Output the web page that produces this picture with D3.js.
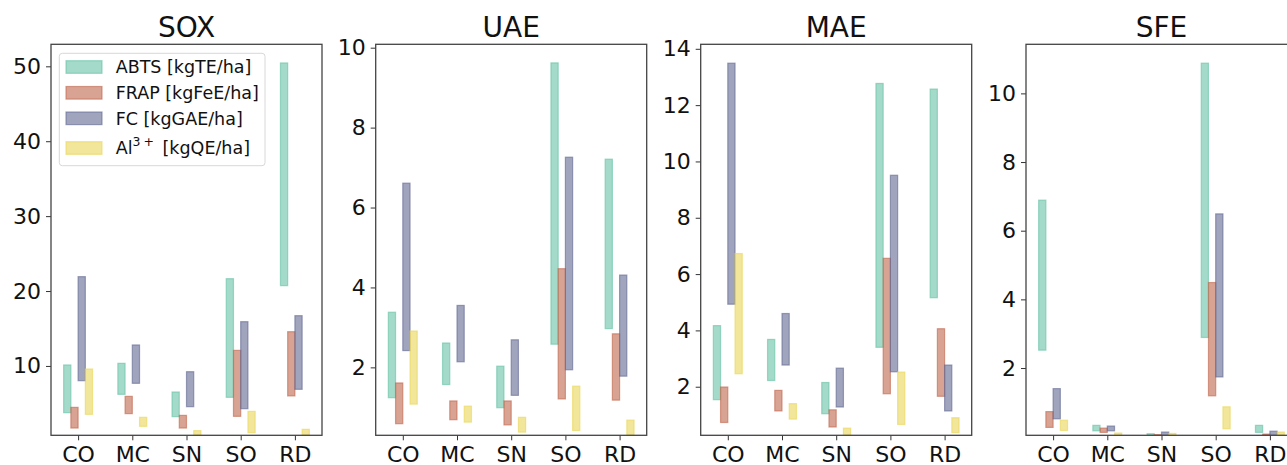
<!DOCTYPE html>
<html>
<head>
<meta charset="utf-8">
<script src="https://cdn.jsdelivr.net/npm/d3@7"></script>
<style>
  html, body { margin: 0; padding: 0; background: #fff; }
  svg { display: block; font-family: "DejaVu Sans", sans-serif; }
</style>
</head>
<body>
<svg id="chart" width="1287" height="465"></svg>
<script>
// ---------- data ----------
const categories = ["CO", "MC", "SN", "SO", "RD"];
const seriesNames = ["ABTS", "FRAP", "FC", "Al"];
const seriesColors = ["#66c2a5", "#c0664b", "#616791", "#e9d557"];
const panelTitles = ["SOX", "UAE", "MAE", "SFE"];

// bottoms / tops, one row per series (ABTS, FRAP, FC, Al3+), one column per category
const soxBottom = [[3.76, 6.21, 3.23, 5.81, 20.72], [1.71, 3.63, 1.71, 3.27, 6.0], [8.03, 7.68, 4.56, 4.29, 6.88], [3.54, 1.94, 0.74, 1.09, 0.74]];
const soxTop    = [[10.13, 10.35, 6.52, 21.65, 50.45], [4.47, 5.94, 3.40, 12.08, 14.57], [21.92, 12.8, 9.23, 15.91, 16.71], [9.59, 3.14, 1.36, 3.94, 1.54]];

const uaeBottom = [[1.24, 1.57, 0.99, 2.58, 2.97], [0.59, 0.69, 0.56, 1.21, 1.18], [2.42, 2.14, 1.30, 1.94, 1.78], [1.08, 0.63, 0.38, 0.42, 0.30]];
const uaeTop    = [[3.38, 2.61, 2.03, 9.62, 7.21], [1.61, 1.16, 1.16, 4.47, 2.84], [6.61, 3.55, 2.69, 7.26, 4.31], [2.91, 1.03, 0.75, 1.53, 0.68]];

const maeBottom = [[1.54, 2.22, 1.04, 3.40, 5.16], [0.73, 1.14, 0.57, 1.75, 1.66], [4.93, 2.77, 1.28, 2.53, 1.14], [2.46, 0.85, 0.275, 0.66, 0.37]];
const maeTop    = [[4.17, 3.68, 2.15, 12.77, 12.57], [1.99, 1.87, 1.18, 6.56, 4.06], [13.49, 4.60, 2.66, 9.51, 2.77], [6.73, 1.40, 0.53, 2.52, 0.90]];

const sfeBottom = [[2.52, 0.17, 0.04, 2.89, 0.125], [0.27, 0.125, 0.04, 1.19, 0.04], [0.52, 0.17, 0.04, 1.74, 0.04], [0.18, 0.04, 0.04, 0.23, 0.04]];
const sfeTop    = [[6.89, 0.33, 0.085, 10.88, 0.33], [0.73, 0.25, 0.06, 4.49, 0.075], [1.40, 0.31, 0.135, 6.49, 0.16], [0.48, 0.105, 0.095, 0.87, 0.135]];

const yLimits = [[0.74, 52.94], [0.30, 10.085], [0.275, 14.16], [0.04, 11.43]];
const yTicks = [[10, 20, 30, 40, 50], [2, 4, 6, 8, 10], [2, 4, 6, 8, 10, 12, 14], [2, 4, 6, 8, 10]];

const panelBottoms = [soxBottom, uaeBottom, maeBottom, sfeBottom];
const panelTops = [soxTop, uaeTop, maeTop, sfeTop];

// ---------- layout ----------
const svg = d3.select("#chart");
const panelLefts = [51, 375.7, 700.7, 1026];
const pw = 271, plotTop = 44.3, plotBottom = 435.3;
const offsets = [-0.2, -0.0667, 0.0667, 0.2];
const barW = 0.1333;
const FONT = "DejaVu Sans, sans-serif";

panelTitles.forEach((title, p) => {
  const left = panelLefts[p];
  const x = d3.scaleLinear().domain([-0.5, 4.5]).range([left, left + pw]);
  const y = d3.scaleLinear().domain(yLimits[p]).range([plotBottom, plotTop]);
  const g = svg.append("g");

  const clipId = "clip" + p;
  svg.append("clipPath").attr("id", clipId).append("rect")
    .attr("x", left).attr("y", plotTop).attr("width", pw).attr("height", plotBottom - plotTop);

  const bars = g.append("g").attr("clip-path", `url(#${clipId})`);
  seriesNames.forEach((s, j) => {
    bars.selectAll(null).data(categories).enter().append("rect")
      .attr("x", (c, i) => x(i + offsets[j] - barW / 2))
      .attr("width", x(barW) - x(0))
      .attr("y", (c, i) => y(panelTops[p][j][i]))
      .attr("height", (c, i) => Math.max(0.01, y(panelBottoms[p][j][i]) - y(panelTops[p][j][i])))
      .attr("fill", seriesColors[j]).attr("fill-opacity", 0.6)
      .attr("stroke", seriesColors[j]).attr("stroke-opacity", 0.6).attr("stroke-width", 1.2);
  });

  // axes
  const yAxis = d3.axisLeft(y).tickValues(yTicks[p]).tickSize(5).tickPadding(5).tickFormat(d3.format("d"));
  const ya = g.append("g").attr("transform", `translate(${left},0)`).call(yAxis);
  const xAxis = d3.axisBottom(x).tickValues(d3.range(categories.length)).tickSize(5).tickPadding(6)
    .tickFormat(i => categories[i]);
  const xa = g.append("g").attr("transform", `translate(0,${plotBottom})`).call(xAxis);
  [ya, xa].forEach(a => {
    a.select(".domain").remove();
    a.selectAll(".tick line").attr("stroke", "#333").attr("stroke-width", 1);
    a.selectAll(".tick text").attr("fill", "#111").style("font-size", "22px").style("font-family", FONT);
  });

  // frame
  g.append("rect").attr("x", left).attr("y", plotTop).attr("width", pw).attr("height", plotBottom - plotTop)
    .attr("fill", "none").attr("stroke", "#444").attr("stroke-width", 1.3);

  // title
  g.append("text").attr("x", left + pw / 2).attr("y", 37).attr("text-anchor", "middle")
    .style("font-size", "28px").style("font-family", FONT).attr("fill", "#111").text(title);
});

// ---------- legend (SOX panel) ----------
const legendLabels = ["ABTS [kgTE/ha]", "FRAP [kgFeE/ha]", "FC [kgGAE/ha]", "Al"];
const lg = svg.append("g");
lg.append("rect").attr("x", 59.3).attr("y", 53.3).attr("width", 205.7).attr("height", 112.4)
  .attr("rx", 3).attr("fill", "#fff").attr("fill-opacity", 0.8).attr("stroke", "#d8d8d8").attr("stroke-width", 1);
const rowY = [67, 92.8, 118.3, 148];
seriesNames.forEach((s, j) => {
  lg.append("rect").attr("x", 66).attr("y", rowY[j] - 6.3).attr("width", 36).attr("height", 12.6)
    .attr("fill", seriesColors[j]).attr("fill-opacity", 0.6)
    .attr("stroke", seriesColors[j]).attr("stroke-opacity", 0.6).attr("stroke-width", 1.2);
  const t = lg.append("text").attr("x", 115.7).attr("y", rowY[j] + 6.3)
    .style("font-size", "17.5px").style("font-family", FONT).attr("fill", "#111");
  if (j < 3) {
    t.text(legendLabels[j]);
  } else {
    t.append("tspan").text("Al");
    t.append("tspan").attr("dy", -8).style("font-size", "12.5px").text("3");
    t.append("tspan").attr("dx", 3).style("font-size", "12.5px").text("+");
    t.append("tspan").attr("dy", 8).attr("dx", 3).text(" [kgQE/ha]");
  }
});
</script>
</body>
</html>
